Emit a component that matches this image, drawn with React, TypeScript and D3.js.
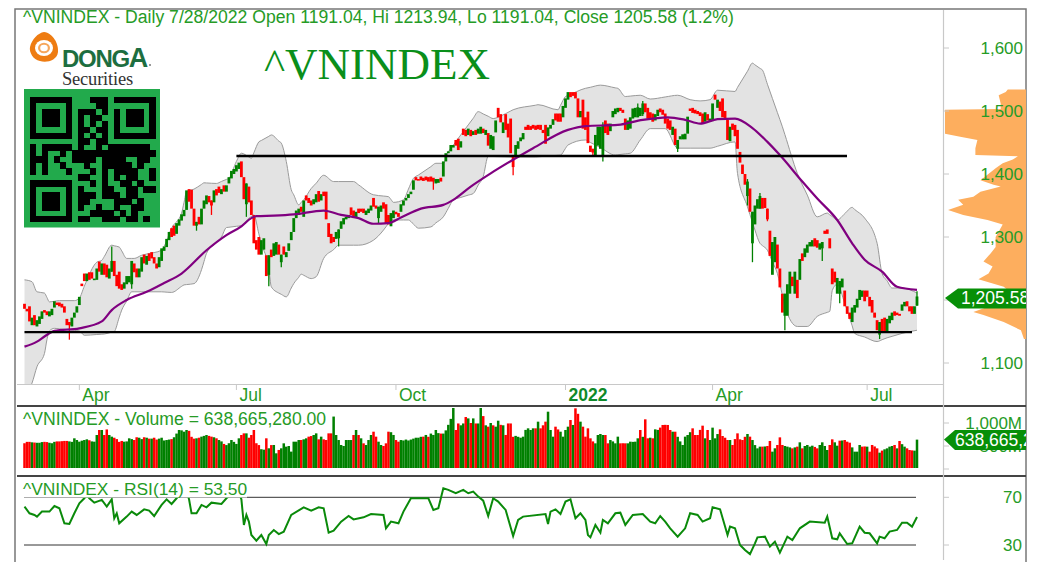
import React from "react";
import * as d3 from "d3";

const headerText = "^VNINDEX - Daily 7/28/2022 Open 1191.04, Hi 1213.94, Lo 1191.04, Close 1205.58 (1.2%)";
const volumeLabel = "^VNINDEX - Volume = 638,665,280.00";
const rsiLabel = "^VNINDEX - RSI(14) = 53.50";
const priceTicks = [1100, 1200, 1300, 1400, 1500, 1600];
const dateBars = [22, 85, 149, 217, 276, 338];
const dateLabels = ["Apr", "Jul", "Oct", "2022", "Apr", "Jul"];

const opens = [
  1194,1186,1190,1160,1176,1158,1162,1170,1184,1182,
  1174,1176,1188,1196,1196,1194,1190,1170,1165,1158,
  1172,1180,1192,1226,1242,1230,1244,1244,1232,1232,
  1261,1240,1258,1256,1234,1245,1262,1240,1245,1225,
  1218,1225,1228,1225,1258,1250,1236,1245,1272,1256,
  1274,1276,1268,1258,1252,1262,1278,1284,1295,1314,
  1318,1305,1318,1326,1333,1343,1376,1375,1345,1318,
  1332,1320,1345,1352,1365,1358,1355,1376,1380,1368,
  1382,1372,1385,1393,1400,1404,1408,1420,1395,1352,
  1380,1358,1335,1295,1300,1272,1280,1271,1240,1280,
  1270,1272,1288,1260,1285,1268,1278,1295,1308,1330,
  1335,1348,1332,1366,1362,1358,1352,1355,1373,1358,
  1372,1372,1322,1305,1300,1297,1298,1313,1320,1328,
  1330,1347,1342,1330,1345,1345,1345,1335,1338,1342,
  1362,1350,1330,1340,1355,1352,1335,1317,1330,1340,
  1338,1340,1350,1358,1362,1368,1375,1395,1392,1396,
  1394,1396,1395,1396,1394,1385,1386,1394,1396,1420,
  1433,1436,1442,1454,1456,1442,1472,1470,1462,1470,
  1462,1470,1464,1464,1472,1462,1465,1440,1438,1466,
  1505,1495,1465,1495,1480,1488,1430,1428,1440,1452,
  1455,1475,1478,1476,1478,1477,1478,1478,1470,1478,
  1460,1472,1478,1496,1496,1496,1490,1505,1518,1530,
  1530,1530,1520,1490,1518,1490,1499,1445,1440,1430,
  1445,1440,1428,1485,1480,1468,1490,1495,1498,1505,
  1502,1488,1470,1472,1488,1490,1490,1492,1495,1512,
  1505,1498,1496,1485,1492,1504,1502,1496,1488,1485,
  1462,1472,1440,1455,1455,1455,1464,1504,1505,1502,
  1500,1498,1496,1483,1495,1483,1484,1526,1505,1515,
  1520,1500,1486,1452,1480,1478,1470,1435,1415,1400,
  1365,1377,1290,1320,1345,1345,1362,1362,1345,1310,
  1240,1260,1288,1250,1210,1175,1175,1210,1237,1210,
  1232,1232,1274,1268,1275,1285,1285,1298,1295,1280,
  1282,1310,1312,1298,1250,1245,1210,1210,1220,1215,
  1190,1180,1165,1180,1188,1200,1205,1215,1215,1205,
  1200,1180,1168,1145,1170,1172,1150,1163,1168,1182,
  1180,1178,1183,1190,1198,1190,1190,1178,1191.04,
];
const closes = [
  1186,1182,1166,1172,1160,1168,1174,1182,1180,1176,
  1182,1186,1198,1192,1190,1188,1180,1160,1160,1172,
  1180,1190,1205,1222,1230,1242,1232,1234,1234,1250,
  1245,1258,1240,1236,1250,1262,1238,1222,1218,1216,
  1228,1238,1238,1262,1244,1236,1250,1268,1258,1270,
  1262,1266,1258,1250,1268,1282,1285,1297,1308,1300,
  1302,1322,1328,1336,1343,1374,1356,1345,1318,1324,
  1320,1345,1358,1366,1355,1350,1374,1366,1370,1376,
  1372,1382,1395,1405,1408,1414,1418,1395,1360,1385,
  1355,1335,1290,1280,1272,1295,1298,1238,1271,1268,
  1290,1292,1272,1272,1272,1276,1290,1308,1330,1342,
  1345,1340,1358,1358,1354,1350,1360,1368,1356,1368,
  1365,1328,1300,1290,1292,1308,1312,1325,1330,1332,
  1335,1335,1330,1340,1338,1340,1338,1342,1345,1350,
  1348,1345,1348,1350,1345,1322,1320,1338,1342,1336,
  1332,1352,1358,1362,1368,1372,1390,1390,1390,1390,
  1389,1390,1388,1388,1388,1392,1392,1388,1420,1433,
  1436,1446,1446,1445,1438,1452,1462,1460,1472,1460,
  1468,1462,1472,1475,1465,1470,1445,1462,1460,1485,
  1490,1482,1482,1470,1458,1433,1411,1446,1452,1458,
  1465,1470,1470,1470,1472,1470,1471,1470,1465,1448,
  1474,1478,1487,1485,1483,1483,1508,1520,1530,1522,
  1524,1520,1490,1500,1472,1470,1449,1435,1434,1462,
  1475,1475,1478,1465,1462,1480,1500,1504,1505,1500,
  1497,1470,1485,1490,1504,1505,1506,1505,1512,1498,
  1488,1488,1483,1495,1502,1498,1494,1480,1472,1470,
  1475,1446,1454,1460,1463,1464,1491,1500,1497,1496,
  1495,1492,1480,1498,1485,1488,1512,1518,1518,1500,
  1490,1486,1454,1475,1470,1460,1440,1418,1400,1383,
  1388,1340,1340,1350,1360,1365,1345,1346,1328,1270,
  1292,1300,1250,1220,1180,1210,1225,1245,1222,1245,
  1203,1265,1262,1282,1288,1292,1295,1285,1283,1290,
  1292,1305,1305,1282,1225,1228,1235,1230,1234,1190,
  1178,1170,1188,1192,1202,1216,1215,1198,1205,1190,
  1180,1172,1152,1165,1148,1150,1170,1175,1180,1175,
  1176,1175,1193,1197,1190,1182,1178,1190,1205.58,
];
const wickBars = [18,35,43,69,75,89,98,103,126,142,164,196,228,232,246,248,262,290,292,295,298,305,320,327,343,358];
const wickHighs = [1165,1285,1262,1324,1358,1385,1271,1272,1312,1348,1392,1430,1440,1482,1512,1516,1454,1392,1340,1370,1345,1210,1292,1230,1165,1213.94];
const wickLows = [1137,1245,1218,1310,1335,1332,1222,1252,1285,1322,1375,1398,1428,1420,1490,1492,1435,1350,1260,1345,1325,1152,1262,1195,1138,1191.04];

const bandBarsUpper = [0,3,5,8,10,14,20,22,24,29,31,35,38,41,44,47,55,56,59,63,65,68,72,77,82,85,87,91,94,99,103,105,107,110,112,115,120,124,132,140,146,148,152,156,165,168,170,175,178,182,188,191,196,206,214,217,225,231,238,241,247,251,262,267,271,275,278,285,292,296,300,304,310,318,322,326,332,337,342,344,348,352,358];
const bandUpper = [1232,1229,1213,1211,1197,1199,1199,1203,1222,1260,1263,1287,1284,1266,1266,1271,1279,1285,1314,1338,1372,1376,1386,1385,1393,1420,1433,1425,1451,1462,1449,1420,1375,1351,1359,1377,1398,1388,1388,1367,1364,1355,1359,1393,1417,1417,1435,1462,1478,1499,1488,1492,1502,1510,1502,1523,1536,1541,1536,1523,1525,1519,1525,1518,1516,1518,1533,1531,1576,1565,1520,1475,1401,1332,1338,1327,1347,1330,1290,1242,1219,1219,1211];
const bandBarsLower = [0,3,5,8,9,10,12,22,24,32,36,39,43,49,55,59,64,68,71,73,79,81,85,87,90,92,95,98,99,102,105,108,111,115,117,120,126,134,140,144,147,154,158,163,168,172,180,184,186,195,205,215,218,225,227,237,243,247,251,257,262,275,285,286,290,293,295,298,302,305,310,314,318,323,324,326,329,333,342,346,352,358];
const bandLower = [1050,1068,1094,1115,1137,1151,1155,1151,1144,1146,1150,1184,1213,1213,1213,1212,1224,1226,1248,1274,1300,1315,1317,1318,1330,1335,1290,1250,1221,1211,1205,1226,1241,1234,1237,1266,1287,1287,1295,1311,1327,1327,1314,1316,1332,1359,1369,1396,1428,1427,1427,1430,1446,1454,1450,1430,1433,1454,1472,1472,1441,1441,1451,1401,1348,1311,1290,1279,1242,1190,1158,1158,1174,1182,1215,1225,1195,1147,1134,1140,1147,1152];

const maBars = [0,5,8,12,22,31,35,41,49,56,63,73,81,87,91,93,100,108,120,127,134,140,146,151,159,168,172,179,187,197,204,218,225,238,248,258,265,271,278,285,292,298,303,312,318,326,332,337,344,350,358];
const maValues = [1126,1134,1142,1151,1155,1166,1184,1200,1213,1227,1242,1279,1303,1317,1330,1333,1334,1336,1342,1335,1330,1321,1322,1331,1345,1351,1359,1380,1401,1425,1441,1470,1476,1478,1486,1490,1486,1480,1487,1488,1473,1451,1430,1388,1361,1327,1290,1264,1245,1221,1216];

const supportLevels = [1149, 1428.5];
const supportFrom = [0, 85];
const supportTo = [355, 330];

const volumes = [
  560,590,590,580,575,570,570,585,590,585,
  570,560,590,600,600,605,610,610,600,590,
  667,630,594,616,630,645,625,600,594,739,
  848,848,739,860,739,703,680,650,590,610,
  594,600,667,650,630,690,680,650,690,680,
  660,660,680,640,660,680,620,630,640,650,
  690,770,848,840,811,848,830,700,660,667,
  680,703,720,739,720,703,690,667,630,600,
  545,520,560,630,590,545,667,739,775,775,
  680,739,848,560,520,430,420,667,450,520,
  522,341,414,450,558,486,500,378,594,594,
  630,630,645,667,703,716,739,775,645,703,
  645,630,775,775,1140,739,630,522,500,630,
  630,630,739,848,739,667,558,522,630,739,
  811,703,594,522,500,558,811,800,740,630,
  594,630,620,640,620,640,660,680,680,700,
  703,740,700,770,740,848,780,770,770,840,
  960,1090,1330,848,990,950,990,1130,1100,1000,
  1100,990,990,1330,1150,950,920,1000,950,920,
  1050,960,950,740,990,990,700,720,700,680,
  703,850,884,848,884,884,1029,884,950,1029,
  1246,848,703,920,860,811,703,848,920,1065,
  957,1319,1200,1029,920,703,884,667,600,558,
  739,761,739,739,558,630,600,558,703,558,
  560,558,558,594,590,594,667,848,700,1080,
  667,680,667,862,850,900,957,960,957,848,
  811,811,700,600,522,703,739,800,884,739,
  739,850,942,667,848,630,899,667,760,862,
  717,680,630,630,522,650,775,645,630,700,
  761,703,630,520,449,486,486,490,500,609,
  377,450,522,688,522,500,486,470,449,470,
  486,580,449,500,522,486,507,480,449,522,
  580,500,413,522,645,580,507,616,620,630,
  594,572,470,377,377,522,486,490,486,377,
  522,490,449,355,400,428,449,486,500,522,
  449,609,540,486,449,413,405,399,638.665,
];
const volumeTicks = [1000, 500];
const volumeTickLabels = ["1,000M", "500M"];

const rsiBars = [0,2,4,5,7,10,12,14,16,18,20,22,24,25,26,28,31,33,35,36,37,38,41,43,45,48,50,52,55,57,59,61,63,65,66,67,69,71,73,75,79,81,84,86,87,88,89,90,91,93,95,97,98,100,102,104,107,112,115,118,120,122,124,127,130,132,136,139,144,145,147,150,152,155,162,164,166,168,170,173,176,178,180,182,184,186,188,190,193,196,198,200,209,210,211,213,215,217,219,221,223,225,226,227,229,231,232,234,237,239,241,244,248,251,253,255,257,259,262,265,267,270,272,275,276,279,282,283,285,287,289,291,293,294,297,299,301,303,306,308,311,315,321,322,324,326,327,330,332,335,337,339,342,343,345,347,350,352,354,356,358];
const rsiValues = [62.2,56.6,55.2,53.8,58,58,62.7,60.8,48.2,47.6,56.6,65,69.2,72,69.2,65.5,67.8,62.2,68.3,52.4,56.6,48.2,53.8,58,55.2,59.9,58.8,54.3,63.6,68.3,64.4,69.2,75,75,68.3,56.6,56.6,63.6,61.6,65.5,64.4,69.2,74,74,68.3,46.8,55.2,49.6,38.4,33.6,38.4,30.8,38.4,42.6,39.2,41.2,55.2,61.6,58.8,61.6,60.8,40.3,42,49.6,54.3,51.5,53.2,56,55.2,44,49.6,48.2,58,69.2,69.2,59.4,60.8,77.6,76.2,73.4,76.2,73.4,74.8,70.6,67.2,54.3,69.2,66.4,59.4,37.6,51,53.8,56,47.6,58,59.9,56,66.4,68.3,52.4,56.6,51,38.4,36.4,46.8,40.3,51,48.2,56.6,57.1,46.8,55.2,56,49.6,48.2,54.3,49.6,44,37,44,56.6,55.2,49.6,52.4,61.6,59.9,38.4,45.4,44,30,25.8,22.4,31.4,36.4,37,28.6,32.8,23.6,37,34.2,44,49.6,48.7,53.8,35.6,34.8,39.8,30.8,31.4,45.4,40.3,39.8,31.4,37,35.6,41.2,42.6,48.7,48.7,45.4,53.5];
const rsiTicks = [70, 30];

const profilePrices = [1534,1530,1525,1512,1503,1502,1464,1459,1454,1441,1430,1428,1423,1417,1409,1390,1383,1380,1372,1364,1359,1351,1343,1335,1327,1320,1300,1284,1274,1261,1253,1242,1233,1221,1205,1181,1176,1165,1152,1138];
const profileVolumes = [18,20,27,25,25,80,80,65,48,50,50,8,13,23,30,45,32,25,45,52,67,62,77,62,38,23,30,30,35,42,33,37,47,22,10,52,42,22,5,2];

const qrRows = [
  "111111100011101111111",
  "100000100001100" + "1000001".slice(1),
  "1011101" + "0111010" + "1011101",
  "1011101" + "0101100" + "1011101",
  "1011101" + "0101010" + "1011101",
  "1000001" + "0110110" + "1000001",
  "1111111" + "0101010" + "1111111",
  "0000000" + "0110110" + "0000000",
  "101111101001011111110",
  "101001011111111111111",
  "111010011110111100110",
  "101001000100111110100",
  "101000100010101111001",
  "000000001100101011001",
  "111111100010100110100",
  "100000101000110011011",
  "101110101110111011000",
  "101110101100001110100",
  "101110101001001001100",
  "100000100011110101000",
  "111111101100111011010",
];

const GREEN = "#008000";
const RED = "#ff0000";
const TEXT = "#269b26";
const FONT = "'Liberation Sans', Arial, sans-serif";

export default function App() {
  const n = closes.length;
  const x = d3.scaleLinear().domain([0, 358]).range([24.5, 917]);
  const y = d3.scaleLinear().domain([1100, 1600]).range([363, 48]);
  const yVol = d3.scaleLinear().domain([0, 1000]).range([469, 423]);
  const yRsi = d3.scaleLinear().domain([30, 70]).range([545, 497.3]);
  const xProfile = d3.scaleLinear().domain([0, 80]).range([1026, 945]);

  const wicks = new Map(wickBars.map((b, i) => [b, [wickHighs[i], wickLows[i]]]));

  const upperFn = d3.scaleLinear().domain(bandBarsUpper).range(bandUpper);
  const lowerFn = d3.scaleLinear().domain(bandBarsLower).range(bandLower);
  const allBandBars = d3.sort(Array.from(new Set([...bandBarsUpper, ...bandBarsLower])));
  const curve = d3.curveMonotoneX;
  const bandArea = d3.area<number>().curve(curve).x((b) => x(b)).y0((b) => y(lowerFn(b))).y1((b) => y(upperFn(b)));
  const upperLine = d3.line<number>().curve(curve).x((b) => x(b)).y((b) => y(upperFn(b)));
  const lowerLine = d3.line<number>().curve(curve).x((b) => x(b)).y((b) => y(lowerFn(b)));

  const maLine = d3.line<number>().curve(curve).x((b) => x(b)).y((_, i) => y(maValues[i]));
  const rsiLine = d3.line<number>().x((b) => x(b)).y((_, i) => yRsi(rsiValues[i]));
  const profileArea = d3
    .area<number>()
    .x0(1026)
    .x1((v) => xProfile(v))
    .y((_, i) => y(profilePrices[i]));

  const qrX = 30;
  const qrY = 96.7;
  const qrSize = 5.97;

  return (
    <svg
      width={1050}
      height={562}
      viewBox="0 0 1050 562"
      style={{ position: "absolute", left: 0, top: 0, background: "#fff", fontFamily: FONT }}
    >
      <defs>
        <clipPath id="pricePane">
          <rect x={17} y={27} width={926} height={357} />
        </clipPath>
        <clipPath id="rightPane">
          <rect x={943} y={10} width={83} height={550} />
        </clipPath>
      </defs>

      {/* frame */}
      <rect x={15} y={9} width={1011} height={560} fill="none" stroke="#777" strokeWidth={1.5} />

      {/* price pane */}
      <g clipPath="url(#pricePane)">
        <path d={bandArea(allBandBars) ?? ""} fill="#e3e3e3" />
        <path d={upperLine(allBandBars) ?? ""} fill="none" stroke="#9a9a9a" strokeWidth={1} />
        <path d={lowerLine(allBandBars) ?? ""} fill="none" stroke="#9a9a9a" strokeWidth={1} />
        {closes.map((c, i) => {
          const o = opens[i];
          const w = wicks.get(i);
          const color = c >= o ? GREEN : RED;
          const top = y(Math.max(o, c));
          const bot = y(Math.min(o, c));
          return (
            <g key={i}>
              {w && <line x1={x(i)} x2={x(i)} y1={y(w[0])} y2={y(w[1])} stroke={color} strokeWidth={1.3} />}
              <rect x={x(i) - 1.4} y={top} width={2.8} height={Math.max(bot - top, 1.6)} fill={color} />
            </g>
          );
        })}
        <path d={maLine(maBars) ?? ""} fill="none" stroke="#800080" strokeWidth={2.2} />
        {supportLevels.map((lv, i) => (
          <line key={i} x1={x(supportFrom[i])} x2={supportTo[i] === 355 ? 912 : 847} y1={y(lv)} y2={y(lv)} stroke="#000" strokeWidth={2.4} />
        ))}
      </g>

      {/* logo */}
      <g>
        <path
          d="M44 32 C53 33 59 44 58 52 C57 61 46 63 40 61 C33 60 29 52 30 47 C32 39 38 33 44 32 Z"
          fill="#ee7c12"
        />
        <ellipse cx={44} cy={48} rx={9} ry={8} fill="#fff" />
        <ellipse cx={44} cy={48} rx={6} ry={5.2} fill="#f6a65c" />
        <ellipse cx={44} cy={48} rx={3.8} ry={3.2} fill="#fff" />
        <text x={62} y={67} fontSize={24} fontWeight="bold" fill="#1d6e40" letterSpacing={-1.3}>
          DONG<tspan fontSize={27}>A</tspan>
        </text>
        <circle cx={150} cy={65} r={1} fill="#777" />
        <text x={62} y={85} fontSize={18.5} fontFamily="'Liberation Serif', serif" fill="#333" letterSpacing={-0.2}>
          Securities
        </text>
      </g>

      {/* QR */}
      <rect x={24} y={89} width={136} height={138.5} fill="#22aa4c" />
      <g shapeRendering="crispEdges">
        {qrRows.map((row, r) =>
          row.split("").map((ch, c) =>
            ch === "1" ? (
              <rect key={`${r}-${c}`} x={qrX + c * qrSize} y={qrY + r * qrSize} width={qrSize + 0.4} height={qrSize + 0.4} fill="#000" />
            ) : null,
          ),
        )}
      </g>

      <text x={264} y={79} fontSize={45} fontFamily="'Liberation Serif', serif" fill="#0a8f1a">
        ^VNINDEX
      </text>

      <text x={23} y={23} fontSize={17.6} fill={TEXT}>
        {headerText}
      </text>

      {/* pane rules */}
      <line x1={17} x2={943} y1={384.5} y2={384.5} stroke="#c8c8c8" strokeWidth={1} />
      <line x1={17} x2={1026} y1={406} y2={406} stroke="#444" strokeWidth={2} />
      <line x1={17} x2={1026} y1={476} y2={476} stroke="#444" strokeWidth={2} />
      <line x1={943.5} x2={943.5} y1={10} y2={560} stroke="#c8c8c8" strokeWidth={1.2} />

      {/* date axis */}
      {dateBars.map((b, i) => (
        <g key={i}>
          <line x1={x(b)} x2={x(b)} y1={384} y2={390} stroke="#c8c8c8" />
          <text
            x={x(b) + 3}
            y={400.5}
            fontSize={17.5}
            fontWeight={dateLabels[i] === "2022" ? "bold" : "normal"}
            fill={dateLabels[i] === "2022" ? "#0f8a2a" : TEXT}
          >
            {dateLabels[i]}
          </text>
        </g>
      ))}

      {/* price axis */}
      <g clipPath="url(#rightPane)">
        <path d={profileArea(profileVolumes) ?? ""} fill="#fdae5e" />
      </g>
      {priceTicks.map((t) => (
        <g key={t}>
          <line x1={944} x2={949} y1={y(t)} y2={y(t)} stroke="#c8c8c8" />
          <text x={1023} y={y(t) + 6} textAnchor="end" fontSize={17} fill={TEXT}>
            {d3.format(",")(t)}
          </text>
        </g>
      ))}
      <path d={`M945 ${y(closes[n - 1]) + 1.5} L958 288.5 H1026 V308.5 H958 Z`} fill="#078f07" />
      <text x={961} y={304} fontSize={17.5} fill="#fff" clipPath="url(#rightPane)">
        {d3.format(",.2f")(closes[n - 1])}
      </text>

      {/* volume pane */}
      {volumes.map((v, i) => {
        const up = i === 0 ? closes[i] >= opens[i] : closes[i] >= closes[i - 1];
        const top = Math.max(yVol(v), 408);
        return <rect key={i} x={x(i) - 1.25} y={top} width={2.5} height={468 - top} fill={up ? GREEN : RED} />;
      })}
      <rect x={23} y={408} width={302} height={19} fill="#fff" />
      <text x={23} y={425} fontSize={17.6} fill={TEXT}>
        {volumeLabel}
      </text>
      {volumeTicks.map((t, i) => (
        <g key={t}>
          <line x1={944} x2={949} y1={yVol(t)} y2={yVol(t)} stroke="#c8c8c8" />
          <text x={1022} y={yVol(t) + 6} textAnchor="end" fontSize={17} fill={TEXT}>
            {volumeTickLabels[i]}
          </text>
        </g>
      ))}
      <line x1={944} x2={949} y1={469} y2={469} stroke="#c8c8c8" />
      <path d={`M944 ${yVol(volumes[n - 1])} L955 430 H1026 V450 H955 Z`} fill="#078f07" />
      <text x={955} y={446} fontSize={17.5} fill="#fff" clipPath="url(#rightPane)">
        638,665,280.00
      </text>

      {/* RSI pane */}
      {rsiTicks.map((t) => (
        <g key={t}>
          <line x1={24} x2={916} y1={yRsi(t)} y2={yRsi(t)} stroke="#333" strokeWidth={1} />
          <line x1={944} x2={949} y1={yRsi(t)} y2={yRsi(t)} stroke="#c8c8c8" />
          <text x={1022} y={yRsi(t) + 6} textAnchor="end" fontSize={17} fill={TEXT}>
            {t}
          </text>
        </g>
      ))}
      <path d={rsiLine(rsiBars) ?? ""} fill="none" stroke="#0a8a0a" strokeWidth={2} />
      <rect x={23} y={478} width={224} height={19.5} fill="#fff" />
      <text x={23} y={495} fontSize={17.4} fill={TEXT}>
        {rsiLabel}
      </text>
    </svg>
  );
}
